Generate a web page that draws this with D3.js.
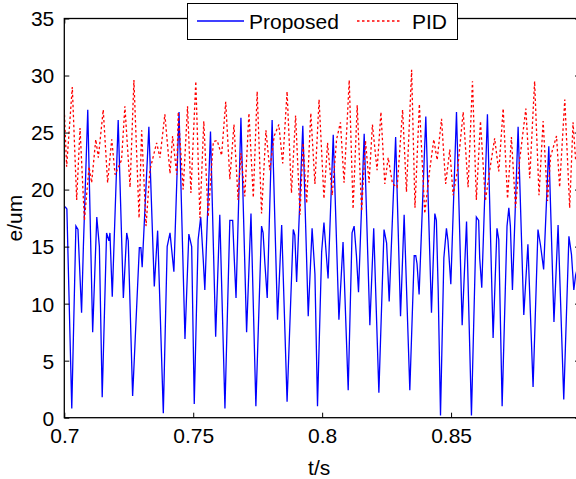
<!DOCTYPE html>
<html><head><meta charset="utf-8">
<script src="https://cdn.jsdelivr.net/npm/d3@7/dist/d3.min.js"></script>
<style>body{margin:0;background:#fff}svg{display:block}text{font-family:"Liberation Sans",Arial,sans-serif;fill:#000}</style>
</head><body><svg id="c" width="576" height="479"></svg>
<script>
const xTicks=[0.7,0.75,0.8,0.85];
const yTicks=[0,5,10,15,20,25,30,35];
const seriesNames=["Proposed","PID"];
const proposedT=[0.7003,0.7010,0.7029,0.7045,0.7053,0.7067,0.7074,0.7091,0.7110,0.7126,0.7136,0.7147,0.7164,0.7173,0.7177,0.7186,0.7209,0.7229,0.7242,0.7248,0.7265,0.7291,0.7297,0.7302,0.7328,0.7349,0.7362,0.7384,0.7399,0.7410,0.7425,0.7445,0.7468,0.7483,0.7494,0.7504,0.7519,0.7529,0.7539,0.7545,0.7567,0.7587,0.7603,0.7623,0.7642,0.7653,0.7659,0.7666,0.7685,0.7707,0.7724,0.7743,0.7765,0.7771,0.7778,0.7787,0.7806,0.7827,0.7843,0.7864,0.7888,0.7894,0.7901,0.7925,0.7946,0.7961,0.7972,0.7982,0.7998,0.8007,0.8017,0.8023,0.8043,0.8065,0.8081,0.8101,0.8116,0.8124,0.8133,0.8141,0.8163,0.8185,0.8200,0.8220,0.8240,0.8250,0.8260,0.8285,0.8304,0.8318,0.8340,0.8357,0.8363,0.8368,0.8376,0.8402,0.8424,0.8437,0.8443,0.8450,0.8459,0.8472,0.8482,0.8488,0.8499,0.8521,0.8543,0.8560,0.8579,0.8598,0.8607,0.8611,0.8619,0.8641,0.8663,0.8678,0.8685,0.8698,0.8717,0.8724,0.8730,0.8738,0.8760,0.8782,0.8798,0.8818,0.8837,0.8847,0.8859,0.8879,0.8899,0.8915,0.8937,0.8957,0.8967,0.8976,0.8983,0.9000];
const proposedE=[18.5,18.3,0.8,16.8,16.5,9.2,15.0,27.0,7.5,17.6,15.0,1.8,16.2,15.5,16.2,10.6,26.1,10.5,16.2,15.5,1.9,14.9,14.9,13.2,25.5,11.5,16.4,0.4,15.0,16.2,12.8,26.8,6.9,16.1,15.0,1.2,15.6,17.6,13.8,11.2,25.1,7.1,17.8,0.8,17.3,17.3,14.0,10.5,26.3,7.5,17.9,1.0,16.8,16.2,13.5,10.5,26.1,8.6,16.9,1.4,16.5,16.0,11.9,25.6,8.9,16.6,12.6,1.0,14.5,17.1,14.0,12.2,24.8,8.6,15.4,2.4,16.2,16.8,14.2,11.0,24.9,8.1,16.6,2.2,16.5,15.3,10.2,24.6,8.9,17.8,2.4,14.2,14.2,13.5,10.8,26.4,9.2,17.9,17.3,11.2,0.2,14.0,16.6,15.5,11.7,26.8,8.1,17.2,0.2,17.6,17.3,14.0,11.4,26.6,7.0,16.6,15.6,1.0,16.8,18.4,16.8,11.2,25.5,9.0,15.2,2.7,16.5,15.1,13.0,23.8,8.4,16.9,1.6,15.9,14.3,11.2,12.5,14.0];
const pidT=[0.7000,0.7009,0.7031,0.7048,0.7061,0.7078,0.7096,0.7106,0.7122,0.7132,0.7151,0.7168,0.7184,0.7197,0.7222,0.7235,0.7255,0.7270,0.7290,0.7300,0.7317,0.7332,0.7358,0.7371,0.7390,0.7410,0.7420,0.7436,0.7442,0.7461,0.7478,0.7491,0.7510,0.7526,0.7541,0.7558,0.7578,0.7593,0.7610,0.7626,0.7642,0.7658,0.7674,0.7685,0.7700,0.7716,0.7733,0.7748,0.7765,0.7782,0.7797,0.7814,0.7832,0.7847,0.7864,0.7881,0.7897,0.7914,0.7926,0.7940,0.7956,0.7972,0.7988,0.8007,0.8021,0.8039,0.8056,0.8071,0.8085,0.8105,0.8120,0.8136,0.8153,0.8168,0.8182,0.8195,0.8213,0.8228,0.8243,0.8256,0.8273,0.8291,0.8312,0.8327,0.8347,0.8360,0.8377,0.8398,0.8417,0.8433,0.8446,0.8463,0.8479,0.8495,0.8508,0.8525,0.8547,0.8566,0.8583,0.8598,0.8614,0.8633,0.8650,0.8669,0.8685,0.8702,0.8719,0.8734,0.8750,0.8766,0.8790,0.8805,0.8824,0.8841,0.8857,0.8874,0.8886,0.8909,0.8921,0.8941,0.8960,0.8973,0.8983,0.9000];
const pidE=[27.0,22.0,29.0,19.1,25.4,17.3,22.0,20.6,24.4,22.8,27.0,20.6,24.4,21.3,22.6,27.3,20.2,29.6,17.5,25.2,16.8,21.7,24.1,22.8,26.6,21.4,24.7,21.3,26.8,20.0,27.3,19.7,29.5,17.5,26.0,17.6,24.2,24.3,23.0,27.7,20.9,25.7,19.1,23.2,19.4,26.7,19.3,28.6,17.9,25.2,21.7,24.7,25.7,22.3,28.6,19.7,26.5,17.8,24.1,18.8,26.7,20.5,27.9,19.2,24.1,19.5,24.4,25.9,20.6,29.6,18.3,27.4,18.1,24.3,20.6,25.7,21.7,26.8,20.5,22.8,20.5,20.2,27.0,19.8,30.5,18.4,27.5,17.9,21.7,24.4,22.6,26.2,20.5,23.5,19.5,21.7,26.8,20.2,29.5,19.1,26.0,19.0,21.7,24.5,21.6,27.1,19.2,24.6,18.4,22.6,27.1,21.0,29.5,19.5,26.0,19.0,22.9,24.7,20.2,27.9,18.4,25.9,22.6,24.0];

const svg=d3.select("#c");
const L=64.3,R=580,T=18.5,B=417.7;
const x=d3.scaleLinear().domain([0.7,0.9]).range([L,R]);
const y=d3.scaleLinear().domain([0,35]).range([B,T]);
const FS=21;

svg.append("defs").append("clipPath").attr("id","clip").append("rect").attr("x",L).attr("y",T).attr("width",R-L).attr("height",B-T);

const prop=proposedT.map((t,i)=>[t,proposedE[i]]);
const pid=pidT.map((t,i)=>[t,pidE[i]]);
const line=d3.line().x(d=>x(d[0])).y(d=>y(d[1]));
const g=svg.append("g").attr("clip-path","url(#clip)");
g.append("path").datum(prop).attr("d",line).attr("fill","none").attr("stroke","#0000ff").attr("stroke-width",1.3);
g.append("path").datum(pid).attr("d",line).attr("fill","none").attr("stroke","#ff0000").attr("stroke-width",1.3).attr("stroke-dasharray","2.5,2.5");

// frame
svg.append("rect").attr("x",L).attr("y",T).attr("width",R-L).attr("height",B-T).attr("fill","none").attr("stroke","#000").attr("stroke-width",1.3);

// axes
const xb=svg.append("g").attr("transform",`translate(0,${B})`).call(d3.axisBottom(x).tickValues(xTicks).tickSizeInner(-5).tickSizeOuter(0).tickPadding(10).tickFormat(d=>String(d)));
const xt=svg.append("g").attr("transform",`translate(0,${T})`).call(d3.axisTop(x).tickValues(xTicks).tickSizeInner(-5).tickSizeOuter(0).tickFormat(""));
const yl=svg.append("g").attr("transform",`translate(${L},0)`).call(d3.axisLeft(y).tickValues(yTicks).tickSizeInner(-5).tickSizeOuter(0).tickPadding(10).tickFormat(d=>String(d)));
const yr=svg.append("g").attr("transform",`translate(${R},0)`).call(d3.axisRight(y).tickValues(yTicks).tickSizeInner(-5).tickSizeOuter(0).tickFormat(""));
[xb,xt,yl,yr].forEach(a=>{a.select(".domain").remove();a.selectAll("line").attr("stroke","#000").attr("stroke-width",1);a.selectAll("text").attr("font-size",FS).attr("font-family","Liberation Sans, Arial, sans-serif").attr("fill","#000");});
yl.selectAll("text").attr("dy","0.35em");

svg.append("text").attr("x",(L+R)/2-3).attr("y",475).attr("text-anchor","middle").attr("font-size",FS).text("t/s");
svg.append("text").attr("transform",`translate(22,${(T+B)/2}) rotate(-90)`).attr("text-anchor","middle").attr("font-size",FS).text("e/um");

// legend
const lg=svg.append("g");
lg.append("rect").attr("x",187.5).attr("y",3.5).attr("width",270).attr("height",36).attr("fill","#fff").attr("stroke","#000").attr("stroke-width",1);
lg.append("line").attr("x1",197).attr("x2",244).attr("y1",21).attr("y2",21).attr("stroke","#0000ff").attr("stroke-width",1.3);
lg.append("text").attr("x",249).attr("y",29).attr("font-size",FS).text(seriesNames[0]);
lg.append("line").attr("x1",357).attr("x2",401).attr("y1",21).attr("y2",21).attr("stroke","#ff0000").attr("stroke-width",1.3).attr("stroke-dasharray","2.5,2.5");
lg.append("text").attr("x",412).attr("y",29).attr("font-size",FS).text(seriesNames[1]);
</script></body></html>
